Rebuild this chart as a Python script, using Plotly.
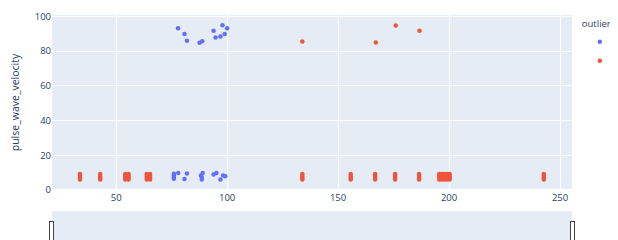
import plotly.graph_objects as go

# "no" outliers (blue)
no_x = [77.9, 80.8, 81.9, 87.6, 88.8, 93.9, 94.8, 97.0, 97.9, 98.9, 100.0,
        76.0, 76.0, 76.0, 76.0, 78.0, 80.8, 81.9, 88.6, 88.6, 88.2, 89.0,
        93.9, 95.2, 97.0, 98.2, 99.2]
no_y = [93.2, 89.8, 85.9, 84.8, 85.7, 91.7, 87.8, 88.4, 94.9, 89.9, 93.2,
        6.5, 7.5, 8.5, 9.3, 9.8, 6.4, 9.5, 6.0, 7.2, 8.4, 9.8,
        8.9, 9.8, 6.0, 8.3, 7.9]

# "yes" outliers (red)
yes_bar_x = [33.7, 42.8, 54.1, 55.6, 63.8, 65.3, 133.9, 155.7, 166.7, 175.7,
             186.5, 195.6, 196.8, 198.0, 199.2, 200.3, 242.7]
bar_levels = [6.0, 7.0, 8.0, 9.2]
yes_top_x = [133.9, 167.0, 176.0, 186.7]
yes_top_y = [85.5, 85.0, 94.7, 91.7]

yes_x = [x for x in yes_bar_x for _ in bar_levels] + yes_top_x
yes_y = [y for _ in yes_bar_x for y in bar_levels] + yes_top_y

x_range = [21.1, 255.4]
y_range = [0, 100.8]
x_ticks = [50, 100, 150, 200, 250]
y_ticks = [0, 20, 40, 60, 80, 100]

FONT = dict(family="Open Sans, verdana, arial, sans-serif", size=9.5, color="#2a3f5f")

fig = go.Figure()
# empty trace so the base subplot (which carries the range slider) exists
fig.add_trace(go.Scatter(x=[], y=[], mode="markers", showlegend=False,
                         hoverinfo="skip"))
fig.add_trace(go.Scatter(x=no_x, y=no_y, mode="markers", name="no", xaxis="x2",
                         marker=dict(color="#636efa", size=4.5)))
fig.add_trace(go.Scatter(x=yes_x, y=yes_y, mode="markers", name="yes", xaxis="x2",
                         marker=dict(color="#EF553B", size=4.5)))

fig.update_layout(
    template="plotly",
    width=640, height=232,
    margin=dict(l=44, r=76, t=7, b=49.5, autoexpand=False),
    font=FONT,
    legend=dict(title=dict(text="outliers", font=dict(size=9.5)),
                font=dict(size=9), tracegroupgap=0, x=1.015),
    # base axis carries only the range slider
    xaxis=dict(range=x_range, showgrid=False, zeroline=False, showticklabels=False,
               ticks="outside", ticklen=6, tickcolor="rgba(0,0,0,0)",
               rangeslider=dict(visible=True, thickness=0.23, range=x_range,
                                bgcolor="#E5ECF6", borderwidth=0)),
    # visible data axis
    xaxis2=dict(overlaying="x", anchor="y", side="bottom", range=x_range,
                tickvals=x_ticks, showgrid=True, gridcolor="white", zeroline=False),
    yaxis=dict(range=y_range, tickvals=y_ticks,
               title=dict(text="pulse_wave_velocity", font=dict(size=10.5))),
)

fig.write_html("out.html")
